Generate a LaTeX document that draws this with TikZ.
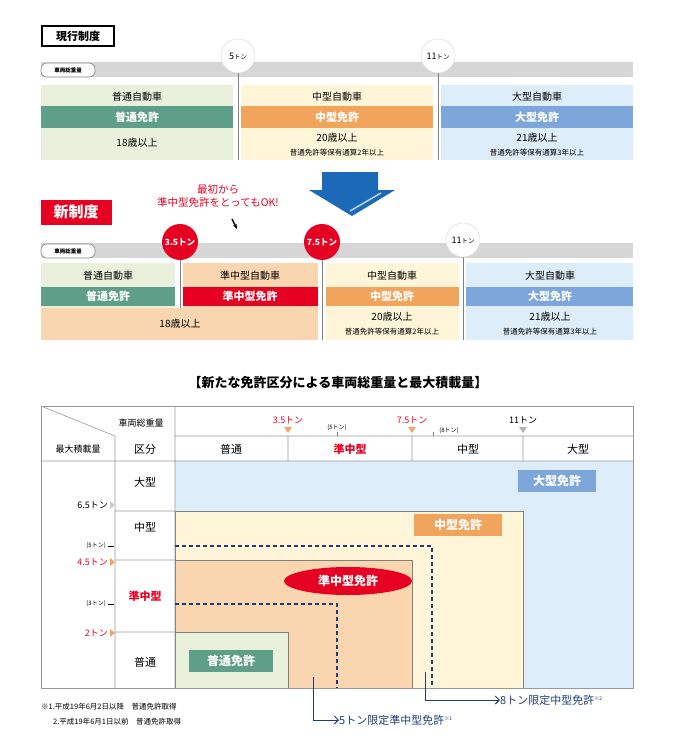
\documentclass[tikz,border=0pt]{standalone}
\usepackage{fontspec}
\setmainfont{Noto Sans CJK JP}
\usetikzlibrary{shapes.geometric,arrows.meta}
\definecolor{lgreen}{HTML}{E9F1DD}\definecolor{lyel}{HTML}{FFF6D9}\definecolor{lblue}{HTML}{DDEDFA}
\definecolor{gband}{HTML}{5F9F89}\definecolor{oband}{HTML}{F1A55C}\definecolor{bband}{HTML}{7DA7DA}
\definecolor{peach}{HTML}{F9D6B0}\definecolor{jred}{HTML}{E60021}\definecolor{navy}{HTML}{1F3C78}
\definecolor{arrblue}{HTML}{1C6AB7}\definecolor{barg}{HTML}{D6D6D6}\definecolor{tri}{HTML}{F4A46A}
\tikzset{txt/.style={inner sep=0pt,font=\fontsize{10}{10}\selectfont},
 small/.style={inner sep=0pt,font=\fontsize{7.5}{8}\selectfont},
 band/.style={inner sep=0pt,font=\fontsize{11}{11}\selectfont\bfseries,text=white},
 pill/.style={draw=gray,fill=white,rounded corners=6pt,line width=0.6pt,minimum width=54pt,minimum height=14pt,inner sep=0pt,font=\fontsize{5.5}{5}\selectfont\bfseries},
 wcirc/.style={circle,draw=barg,fill=white,minimum size=34pt,inner sep=0pt,font=\fontsize{9}{9}\selectfont},
 rcirc/.style={circle,fill=jred,minimum size=36pt,inner sep=0pt,text=white,font=\fontsize{8.5}{8}\selectfont\bfseries},
 grid/.style={draw=gray!80,line width=0.6pt},
 navyd/.style={draw=navy,line width=1.3pt,dashed,dash pattern=on 4pt off 3pt},
 tlab/.style={inner sep=1pt,font=\fontsize{12}{12}\selectfont\bfseries,text=white},
 tw/.style={txt,font=\fontsize{9}{9}\selectfont}}
\begin{document}
\begin{tikzpicture}[x=1pt,y=-1pt]
\useasboundingbox (0,0) rectangle (676,749);
% ---- current system
\node[draw=black,line width=1.5pt,inner sep=2pt,font=\fontsize{11}{11}\selectfont\bfseries,minimum width=72pt,minimum height=20pt] (cur) at (78,36) {現行制度};
\fill[barg] (41,62) rectangle (633,77);
\node[pill] (p1) at (68,70) {車両総重量};
\fill[lgreen] (41,85) rectangle (233,160);
\fill[lyel] (241,85) rectangle (433,160);
\fill[lblue] (441,85) rectangle (633,160);
\draw[gray,line width=0.8pt] (238,60)--(238,160) (438,60)--(438,160);
\node[wcirc] (c5) at (238,56) {5{\fontsize{6.5}{6}\selectfont トン}};
\node[wcirc] (c11) at (438,56) {11{\fontsize{6.5}{6}\selectfont トン}};
\fill[gband] (41,106) rectangle (233,128);
\fill[oband] (241,106) rectangle (433,128);
\fill[bband] (441,106) rectangle (633,128);
\node[txt] (a1) at (137,97) {普通自動車};
\node[txt] (a2) at (337,97) {中型自動車};
\node[txt] (a3) at (537,97) {大型自動車};
\node[band] (b1) at (137,117) {普通免許};
\node[band] (b2) at (337,117) {中型免許};
\node[band] (b3) at (537,117) {大型免許};
\node[txt] (d1) at (137,143) {18歳以上};
\node[txt] (d2) at (337,138) {20歳以上};
\node[small] (e2) at (337,153) {普通免許等保有通算2年以上};
\node[txt] (d3) at (537,138) {21歳以上};
\node[small] (e3) at (537,153) {普通免許等保有通算3年以上};
% big arrow
\fill[arrblue] (322,172) -- (378,172) -- (378,190) -- (395,190) -- (352,216) -- (309,190) -- (322,190) -- cycle;
\draw[white!70!arrblue,line width=1.5pt] (350,211)--(381,193);
% ---- new system
\node[fill=jred,text=white,font=\fontsize{15}{15}\selectfont\bfseries,minimum width=71pt,minimum height=25pt,inner sep=0pt] (new) at (76,212) {新制度};
\node[inner sep=0pt,text=jred,font=\fontsize{10.5}{10}\selectfont,align=center] (ok) at (218,196) {最初から\\[3pt]準中型免許をとってもOK!};
\draw[-{Stealth[length=5pt]},line width=1.5pt] (232,219)--(237,229);
\fill[barg] (41,243) rectangle (633,258);
\node[pill] (p2) at (68,251) {車両総重量};
\fill[lgreen] (41,263) rectangle (175,308);
\fill[peach] (183,263) rectangle (318,308);
\fill[peach] (41,308) rectangle (318,340);
\fill[lyel] (326,263) rectangle (459,340);
\fill[lblue] (466,263) rectangle (633,340);
\draw[gray,line width=0.8pt] (180,243)--(180,308) (322,243)--(322,340) (463,243)--(463,340);
\node[rcirc] (r35) at (180,242) {3.5トン};
\node[rcirc] (r75) at (322,242) {7.5トン};
\node[wcirc] (w11) at (463,240) {11{\fontsize{6.5}{6}\selectfont トン}};
\fill[gband] (41,287) rectangle (175,306);
\fill[jred] (183,287) rectangle (318,306);
\fill[oband] (326,287) rectangle (459,306);
\fill[bband] (466,287) rectangle (633,306);
\node[txt] (n1) at (108,276) {普通自動車};
\node[txt] (n2) at (250,276) {準中型自動車};
\node[txt] (n3) at (392,276) {中型自動車};
\node[txt] (n4) at (550,276) {大型自動車};
\node[band] (m1) at (108,296) {普通免許};
\node[band] (m2) at (250,296) {準中型免許};
\node[band] (m3) at (392,296) {中型免許};
\node[band] (m4) at (550,296) {大型免許};
\node[txt] (f1) at (180,324) {18歳以上};
\node[txt] (f3) at (392,317) {20歳以上};
\node[small] (g3) at (392,332) {普通免許等保有通算2年以上};
\node[txt] (f4) at (550,317) {21歳以上};
\node[small] (g4) at (550,332) {普通免許等保有通算3年以上};
% ---- table title
\node[inner sep=0pt,font=\fontsize{13}{13}\selectfont\bfseries] (title) at (338,383) {【新たな免許区分による車両総重量と最大積載量】};
% table
\fill[lblue] (175,461) rectangle (633,688);
\filldraw[fill=lyel,draw=gray] (175,511) rectangle (523,688);
\filldraw[fill=peach,draw=gray] (175,560) rectangle (412,688);
\filldraw[fill=lgreen,draw=gray] (175,632) rectangle (288,688);
\draw[grid] (41,406) rectangle (633,688);
\draw[grid] (175,436)--(633,436) (41,461)--(633,461) (115,436)--(115,688) (175,406)--(175,688)
 (288,436)--(288,461) (412,436)--(412,461) (523,436)--(523,461)
 (115,511)--(175,511) (115,560)--(175,560) (115,632)--(175,632) (41,406)--(115,436);
\node[tw] (h1) at (141,423) {車両総重量};
\node[tw] (h2) at (78,449) {最大積載量};
\node[txt,font=\fontsize{11}{11}\selectfont] (h3) at (145,449) {区分};
\node[txt,font=\fontsize{11}{11}\selectfont] (k1) at (231,449) {普通};
\node[txt,text=jred,font=\fontsize{11}{11}\selectfont\bfseries] (k2) at (350,449) {準中型};
\node[txt,font=\fontsize{11}{11}\selectfont] (k3) at (468,449) {中型};
\node[txt,font=\fontsize{11}{11}\selectfont] (k4) at (578,449) {大型};
\node[tw,text=jred] (t35) at (288,420) {3.5トン};
\node[tw,text=jred] (t75) at (412,420) {7.5トン};
\node[tw] (t11) at (523,420) {11トン};
\fill[tri] (284,427)--(292,427)--(288,433)--cycle;
\fill[tri] (408,427)--(416,427)--(412,433)--cycle;
\fill[gray!60] (519,427)--(527,427)--(523,433)--cycle;
\node[small,font=\fontsize{6}{6}\selectfont] (t5) at (337,428) {(5トン)};
\node[small,font=\fontsize{6}{6}\selectfont] (t8) at (449,431) {(8トン)};
\draw[gray] (337,432)--(337,436) (433,432)--(433,436);
\node[txt,font=\fontsize{11}{11}\selectfont] (r1) at (145,482) {大型};
\node[txt,font=\fontsize{11}{11}\selectfont] (r2) at (145,527) {中型};
\node[txt,text=jred,font=\fontsize{11}{11}\selectfont\bfseries] (r3) at (145,596) {準中型};
\node[txt,font=\fontsize{11}{11}\selectfont] (r4) at (145,662) {普通};
\node[tw,anchor=east] (l65) at (108,505) {6.5トン};
\fill[gray!40] (110,501)--(115,505)--(110,509)--cycle;
\node[small,font=\fontsize{6}{6}\selectfont,anchor=east] (l5) at (106,546) {(5トン)};
\draw (108,546)--(114,546);
\node[tw,anchor=east,text=jred] (l45) at (108,562) {4.5トン};
\fill[tri] (110,558)--(115,562)--(110,566)--cycle;
\node[small,font=\fontsize{6}{6}\selectfont,anchor=east] (l3) at (106,604) {(3トン)};
\draw (108,604)--(114,604);
\node[tw,anchor=east,text=jred] (l2) at (108,633) {2トン};
\fill[tri] (110,629)--(115,633)--(110,637)--cycle;
% dashed limits
\draw[navyd] (175,546)--(432,546)--(432,688);
\draw[navyd] (175,604)--(337,604)--(337,688);
% labels
\node[fill=bband,tlab,minimum width=78pt,minimum height=22pt] (L1) at (557,481) {大型免許};
\node[fill=oband,tlab,minimum width=88pt,minimum height=22pt] (L2) at (458,525) {中型免許};
\node[ellipse,fill=jred,tlab,minimum width=128pt,minimum height=28pt,inner sep=0pt] (L3) at (348,581) {準中型免許};
\node[fill=gband,tlab,minimum width=84pt,minimum height=22pt] (L4) at (231,661) {普通免許};
% callouts
\coordinate (s1) at (313,677); \coordinate (s2) at (425,672);
\node[anchor=west,inner sep=0pt,text=navy,font=\fontsize{11}{11}\selectfont] (c1) at (339,720) {5トン限定準中型免許\textsuperscript{\fontsize{5}{5}\selectfont ※1}};
\node[anchor=west,inner sep=0pt,text=navy,font=\fontsize{11}{11}\selectfont] (c2) at (500,700) {8トン限定中型免許\textsuperscript{\fontsize{5}{5}\selectfont ※2}};
\draw[navy,line width=1pt,-{Straight Barb[length=4pt]}] (s1)|-(c1.west);
\draw[navy,line width=1pt,-{Straight Barb[length=4pt]}] (s2)|-(c2.west);
\node[small,anchor=west] (fn1) at (41,707) {※1.平成19年6月2日以降\quad 普通免許取得};
\node[small,anchor=west] (fn2) at (53,722) {2.平成19年6月1日以前\quad 普通免許取得};
\end{tikzpicture}
\end{document}
